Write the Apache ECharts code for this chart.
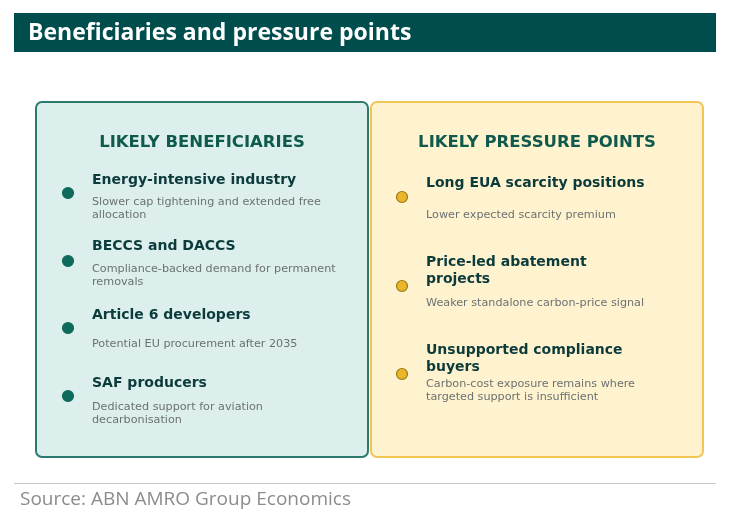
<!DOCTYPE html>
<html><head><meta charset="utf-8">
<script src="https://cdn.jsdelivr.net/npm/echarts@6/dist/echarts.min.js"></script>
<style>html,body{margin:0;padding:0;background:#fff}#c{width:732px;height:521px}</style>
</head><body><div id="c"></div>
<script>
var chartTitle = 'Beneficiaries and pressure points';
var sourceText = 'Source: ABN AMRO Group Economics';
var leftHeading = 'LIKELY BENEFICIARIES';
var rightHeading = 'LIKELY PRESSURE POINTS';
var leftTitles = ['Energy-intensive industry', 'BECCS and DACCS', 'Article 6 developers', 'SAF producers'];
var leftDescs = ['Slower cap tightening and extended free\nallocation', 'Compliance-backed demand for permanent\nremovals', 'Potential EU procurement after 2035', 'Dedicated support for aviation\ndecarbonisation'];
var rightTitles = ['Long EUA scarcity positions', 'Price-led abatement\nprojects', 'Unsupported compliance\nbuyers'];
var rightDescs = ['Lower expected scarcity premium', 'Weaker standalone carbon-price signal', 'Carbon-cost exposure remains where\ntargeted support is insufficient'];

// layout (positions / styles only)
var L = { titleY: [172, 238, 307, 375], descY: [196, 263, 338, 401], dotY: [193, 261, 328, 396] };
var R = { titleY: [175, 254, 342], descY: [209, 297, 378], dotY: [197, 286, 374] };

var chart = echarts.init(document.getElementById('c'), null, {renderer: 'canvas'});
var g = [];
g.push({type: 'rect', shape: {x: 14, y: 13, width: 702, height: 39}, style: {fill: '#004d4d'}});
g.push({type: 'text', x: 28, y: 33, style: {text: chartTitle, fill: '#ffffff', font: 'bold 23px "Open Sans", sans-serif', verticalAlign: 'middle'}});
g.push({type: 'rect', shape: {x: 36, y: 102, width: 332, height: 355, r: 6}, style: {fill: '#dcefed', stroke: '#2b7a6e', lineWidth: 2}});
g.push({type: 'rect', shape: {x: 371, y: 102, width: 332, height: 355, r: 6}, style: {fill: '#fff3cf', stroke: '#f2c655', lineWidth: 2}});
g.push({type: 'text', x: 202, y: 143, style: {text: leftHeading, fill: '#0f5a4d', font: 'bold 16.5px "DejaVu Sans", sans-serif', align: 'center', verticalAlign: 'middle'}});
g.push({type: 'text', x: 537, y: 143, style: {text: rightHeading, fill: '#0f5a4d', font: 'bold 16.5px "DejaVu Sans", sans-serif', align: 'center', verticalAlign: 'middle'}});
function items(titles, descs, pos, dotX, textX, dotFill, dotStroke) {
  titles.forEach(function (t, i) {
    g.push({type: 'circle', shape: {cx: dotX, cy: pos.dotY[i], r: 5.5}, style: {fill: dotFill, stroke: dotStroke, lineWidth: 1.2}});
    g.push({type: 'text', x: textX, y: pos.titleY[i], style: {text: t, fill: '#0c3b3b', font: 'bold 14px "DejaVu Sans", sans-serif', lineHeight: 17, verticalAlign: 'top'}});
    g.push({type: 'text', x: textX, y: pos.descY[i], style: {text: descs[i], fill: '#6b7272', font: '11.2px "DejaVu Sans", sans-serif', lineHeight: 13, verticalAlign: 'top'}});
  });
}
items(leftTitles, leftDescs, L, 68, 92, '#0e6b5c', '#0e6b5c');
items(rightTitles, rightDescs, R, 402, 426, '#e8b52b', '#9c7a14');
g.push({type: 'line', shape: {x1: 14, y1: 483.5, x2: 716, y2: 483.5}, style: {stroke: '#c8c8c8', lineWidth: 1}});
g.push({type: 'text', x: 20, y: 500, style: {text: sourceText, fill: '#8c8c8c', font: '19px "Open Sans", sans-serif', verticalAlign: 'middle'}});
chart.setOption({animation: false, graphic: {elements: g}});
</script></body></html>
